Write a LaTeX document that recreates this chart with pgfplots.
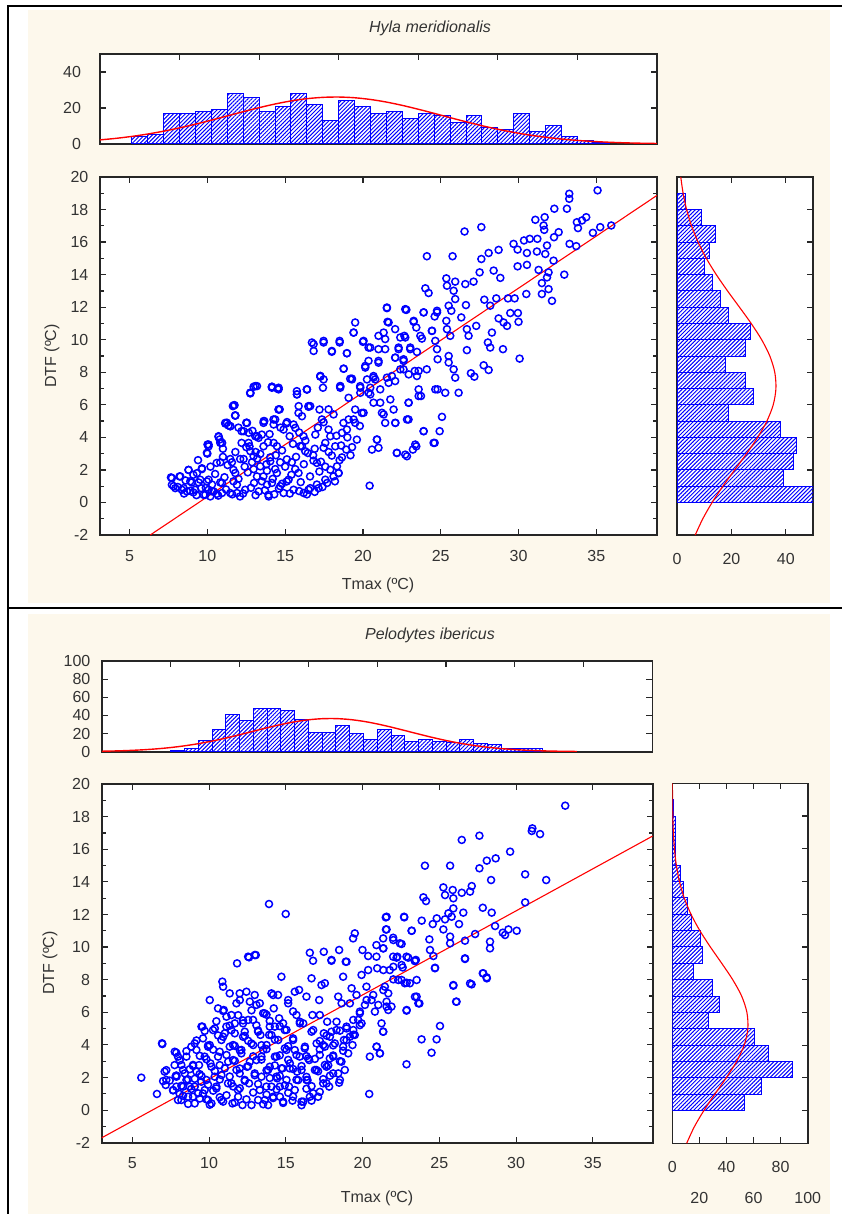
\documentclass[border=0pt]{standalone}
\usepackage{fontspec}
\setmainfont{Liberation Sans}
\usepackage{pgfplots}
\pgfplotsset{compat=1.18}
\usetikzlibrary{patterns.meta}
\definecolor{cream}{HTML}{FDF8EC}
\definecolor{txt}{HTML}{333333}

\pgfplotsset{
  stat/.style={
    scale only axis,
    axis background/.style={fill=white},
    axis line style={black!85, line width=0.8pt},
    tick style={black!85, line width=0.6pt},
    tick align=inside,
    major tick length=3pt,
    minor tick length=2pt,
    tick label style={font=\fontsize{8}{9}\selectfont, text=txt},
  },
  hatch/.style={draw=blue, line width=0.5pt,
    pattern={Lines[angle=45,distance=1.4pt,line width=0.5pt]}, pattern color=blue},
  dots/.style={only marks, mark=o, mark size=1.75pt, draw=blue,
    mark options={blue, line width=0.75pt}},
  fitline/.style={red, line width=0.55pt},
}

\begin{document}
\begin{tikzpicture}[x=0.5pt, y=-0.5pt]
\path[use as bounding box] (0,0) rectangle (842,1214);
\fill[white] (0,0) rectangle (842,1214);
\fill[cream] (28,10) rectangle (830,603);
\fill[cream] (28,614) rectangle (830,1214);
\draw[black, line width=1pt] (8,1214) -- (8,6) -- (842,6);
\draw[black, line width=1pt] (8,608) -- (842,608);

% ---------------- Hyla meridionalis ----------------
\node[font=\fontsize{8}{9}\selectfont\itshape, text=txt] at (430,28) {Hyla meridionalis};

% top histogram
\begin{axis}[stat, at={(50pt,-27pt)}, anchor=north west, width=278.5pt, height=45pt,
  xmin=5, xmax=40, ymin=0, ymax=50,
  xtick={10,15,...,35}, xticklabels={}, xtick pos=right,
  ytick={0,20,40}, yticklabels={0,20,40}, ytick pos=both,
  yticklabel style={xshift=-6pt}]
\addplot[ybar interval, hatch] coordinates {
 (7,4) (8,5) (9,17) (10,17) (11,18) (12,19) (13,28) (14,26) (15,18) (16,21)
 (17,28) (18,22) (19,13) (20,24) (21,21) (22,17) (23,18) (24,14) (25,17) (26,16)
 (27,12) (28,16) (29,9) (30,8) (31,17) (32,7) (33,10) (34,4) (35,2) (36,1) (37,0)};
\addplot[red, line width=0.7pt, smooth] coordinates {
 (5,2.28) (6,3.13) (7,4.21) (8,5.54) (9,7.12) (10,8.96) (11,11.02) (12,13.25)
 (13,15.60) (14,17.94) (15,20.19) (16,22.22) (17,23.92) (18,25.17) (19,25.91)
 (20,26.09) (21,25.69) (22,24.73) (23,23.29) (24,21.44) (25,19.31) (26,17.01)
 (27,14.65) (28,12.34) (29,10.17) (30,8.19) (31,6.45) (32,4.97) (33,3.75)
 (34,2.76) (35,1.99) (36,1.40) (37,0.97) (38,0.65) (39,0.43) (40,0.28)};
\end{axis}

% scatter
\begin{axis}[stat, at={(50pt,-88.5pt)}, anchor=north west, width=278.5pt, height=179pt,
  xmin=3.1, xmax=38.9, ymin=-2, ymax=20,
  xtick={5,10,...,35}, xticklabels={5,10,15,20,25,30,35}, xtick pos=both,
  ytick={-2,0,...,20}, yticklabels={-2,0,2,4,6,8,10,12,14,16,18,20}, ytick pos=both,
  minor y tick num=1,
  xticklabel style={yshift=-4pt}, yticklabel style={xshift=-2.3pt}]
\addplot[dots] coordinates {
 (7.66,1.54) (7.72,1.09) (7.94,0.88) (8.21,1.6) (8.36,0.78) (8.69,0.68) (8.79,2.0) (9.0,1.23)
 (9.1,0.62) (9.33,1.8) (9.44,1.23) (9.65,2.1) (9.6,0.88) (9.76,0.47) (9.97,1.29) (10.08,3.45)
 (10.0,3.0) (10.08,0.78) (10.19,0.37) (10.4,0.68) (10.6,2.43) (10.72,4.03) (10.94,3.66)
 (10.83,1.23) (10.94,0.58) (11.15,4.85) (11.36,4.73) (11.47,0.58) (11.58,2.47) (11.64,5.92)
 (11.79,5.34) (11.79,1.81) (11.9,1.09) (12.1,0.37) (12.2,4.38) (12.2,3.66) (12.33,2.67)
 (12.43,0.78) (12.54,4.89) (12.76,6.7) (12.97,7.11) (12.71,3.45) (12.97,2.84) (13.08,4.07)
 (13.19,1.6) (13.3,0.68) (13.4,2.22) (13.5,4.17) (13.61,3.45) (13.66,5.0) (13.83,1.09)
 (13.94,0.37) (14.04,2.53) (14.15,7.11) (14.36,5.1) (14.51,6.99) (14.58,5.71) (14.26,3.66)
 (14.47,1.81) (14.68,2.47) (14.9,0.58) (15.07,4.85) (15.1,1.29) (15.29,4.07) (15.43,2.47)
 (15.54,0.78) (15.65,4.58) (15.76,6.64) (15.86,1.81) (16.08,3.45) (16.19,0.58) (16.4,6.95)
 (16.46,3.04) (16.5,5.88) (16.61,0.88) (16.72,9.83) (16.83,9.31) (16.94,4.17) (17.04,2.43)
 (17.15,0.88) (17.21,5.71) (17.26,7.73) (17.47,9.93) (17.43,7.05) (17.47,4.93) (17.58,3.66)
 (17.58,1.4) (17.79,4.48) (17.9,2.01) (18.0,9.31) (18.11,5.41) (18.22,3.45) (18.33,2.22)
 (18.5,9.93) (18.44,1.81) (18.54,7.15) (18.65,4.28) (18.76,8.22) (18.97,9.17) (18.93,3.25)
 (19.08,5.1) (19.29,7.61) (19.4,10.44) (19.5,11.06) (19.5,5.71) (19.61,3.86) (19.83,7.05)
 (20.0,9.87) (20.04,5.51) (20.15,8.39) (20.26,7.56) (20.36,6.74) (20.43,1.03) (20.47,9.52)
 (20.58,3.25) (20.68,6.13) (20.79,7.56) (20.9,3.86) (21.0,8.59) (21.11,6.95) (21.22,5.51)
 (21.33,10.44) (21.43,4.89) (21.54,11.98) (21.65,11.06) (21.76,6.33) (21.86,7.77) (21.97,5.71)
 (22.08,8.9) (22.08,4.89) (22.18,3.04) (22.29,9.52) (22.61,8.18) (22.72,11.88) (22.83,2.84)
 (22.93,6.13) (22.93,5.1) (23.04,9.52) (23.26,11.16) (23.43,3.45) (23.47,7.77) (23.58,6.54)
 (23.69,10.24) (23.9,11.68) (23.9,4.38) (24.1,8.18) (24.43,10.54) (24.54,3.66) (24.65,6.95)
 (24.76,11.68)
 (7.72,1.5) (8.26,1.6) (7.83,1.0) (8.79,2.0) (9.65,2.05) (8.9,1.3) (8.47,0.88) (9.22,0.78)
 (9.54,1.4) (10.08,1.4) (9.87,0.47) (10.3,0.68) (10.6,0.53) (10.94,1.2) (10.83,2.47)
 (10.08,3.56) (9.97,3.05) (10.79,3.87) (10.94,3.66) (11.15,4.89) (11.47,4.68) (11.75,5.98)
 (11.79,5.34) (11.47,2.67) (11.68,2.0) (11.68,1.3) (11.9,0.58) (12.11,2.67) (12.33,4.38)
 (12.54,4.89) (12.65,3.66) (12.76,6.74) (13.08,7.15) (12.76,3.15) (12.87,2.47) (12.97,2.05)
 (13.29,3.97) (13.4,2.98) (13.5,1.3) (13.61,4.89) (13.83,1.95) (13.93,0.47) (14.04,2.77)
 (14.15,7.11) (14.15,1.2) (14.25,5.1) (14.36,2.05) (14.47,3.46) (14.58,7.05) (14.58,5.72)
 (14.68,1.0) (14.9,4.48) (15.11,2.65) (15.22,1.4) (15.54,4.79) (15.65,2.05) (15.75,6.84)
 (15.86,5.5) (15.97,3.46) (16.18,4.07) (16.29,3.15) (16.4,6.94) (16.5,0.78) (16.61,5.92)
 (16.82,2.57) (17.04,1.1) (17.26,7.77) (17.36,5.1) (17.47,3.36) (17.58,2.2) (17.79,5.72)
 (17.9,4.07) (18.0,2.88) (18.11,1.6) (18.43,1.8) (18.54,7.15) (18.65,2.77) (18.75,4.89)
 (18.97,4.48) (19.08,6.43) (19.29,7.56) (19.4,5.1) (19.5,4.89) (19.83,6.74) (19.93,5.5)
 (20.47,6.64) (20.68,7.77) (20.9,3.87) (21.0,3.36) (21.11,6.13) (21.33,5.41) (21.65,7.35)
 (22.08,4.89) (22.18,3.05)
 (8.1,0.95) (8.5,0.55) (8.9,0.72) (9.3,0.45) (9.9,0.9) (10.7,0.42) (11.2,0.8) (11.6,0.5)
 (12.3,0.55) (12.8,0.9) (13.1,0.45) (13.7,0.75) (14.3,0.5) (14.6,0.85) (15.3,0.55) (15.9,0.7)
 (16.4,0.5) (16.9,0.65) (17.4,0.95) (17.7,1.2)
 (8.6,1.35) (9.1,1.7) (10.3,1.1) (10.5,1.75) (11.1,1.55) (12.0,1.45) (12.6,1.85) (13.0,1.2)
 (13.6,1.6) (14.2,1.45) (14.8,1.15) (15.4,1.7) (16.0,1.25) (16.6,1.6) (17.2,1.9) (18.2,1.3)
 (9.4,2.6) (10.2,2.2) (11.0,2.8) (11.3,2.3) (12.4,2.2) (13.2,2.7) (13.8,2.35) (14.4,2.9)
 (15.0,2.2) (15.7,2.8) (16.2,2.35) (16.8,2.9) (17.3,2.5) (18.5,2.6) (19.2,2.9)
 (11.0,3.3) (11.8,3.1) (12.5,3.4) (13.1,3.1) (13.9,3.7) (14.8,3.2) (15.5,3.6) (16.3,3.8)
 (16.9,3.3) (17.8,3.1) (18.6,3.5) (19.3,3.4)
 (12.0,4.6) (12.9,4.4) (14.0,4.2) (14.7,4.6) (15.9,4.3) (17.1,4.6) (18.3,4.1) (19.0,4.0) (19.8,4.7)
 (35.08,19.18) (33.26,18.97) (33.26,18.66) (32.3,18.05) (33.11,18.05) (31.68,17.53)
 (31.08,17.37) (31.61,17.02) (33.75,17.22) (34.35,17.53) (34.08,17.33) (31.65,16.75)
 (32.58,16.61) (33.82,16.86) (26.53,16.65) (27.61,16.92) (34.78,16.57) (35.25,16.92)
 (35.96,17.02) (30.35,16.1) (30.72,16.2) (31.21,16.2) (32.28,16.3) (29.68,15.89) (31.83,15.79)
 (33.28,15.89) (33.71,15.75) (24.11,15.13) (25.76,15.13) (28.08,15.33) (28.72,15.52)
 (29.94,15.54) (30.54,15.33) (31.18,15.42) (31.72,15.27) (27.61,14.96) (32.25,14.86)
 (29.94,14.51) (30.54,14.6) (27.5,14.14) (28.4,14.25) (28.83,13.8) (31.29,14.29) (31.93,14.14)
 (32.94,14.0) (25.36,13.77) (25.93,13.57) (26.58,13.42) (27.11,13.57) (25.4,13.32)
 (25.83,13.01) (24.01,13.16) (24.22,12.87) (31.5,13.48) (31.83,13.83) (31.93,13.11)
 (31.5,12.81) (30.5,12.81) (32.15,12.39) (25.93,12.5) (26.62,12.13) (27.8,12.46) (28.57,12.54)
 (28.18,12.09) (29.32,12.54) (29.75,12.54) (22.79,11.84) (23.9,11.68) (24.76,11.78)
 (25.68,11.78) (25.51,12.09) (23.26,11.1) (23.43,10.75) (24.61,11.43) (25.36,11.16)
 (26.32,11.37) (28.72,11.31) (29.04,11.06) (29.47,11.64) (29.96,11.64) (30.0,11.1)
 (29.26,10.85) (22.4,10.14) (22.66,10.24) (23.79,10.07) (24.44,10.55) (25.4,10.65)
 (25.61,10.24) (26.68,10.65) (27.28,10.85) (26.79,10.24) (28.29,10.44) (23.04,9.42)
 (23.47,9.25) (24.65,9.93) (24.76,9.42) (25.51,9.0) (25.51,8.6) (24.8,8.8) (26.68,9.36)
 (28.03,9.83) (28.18,9.52) (29.0,9.42) (30.07,8.84) (22.61,8.8) (22.4,8.18) (22.94,7.87)
 (23.58,8.08) (25.83,8.18) (25.93,7.67) (26.94,7.94) (27.16,7.73) (27.76,8.43) (28.08,8.14)
 (23.58,6.95) (23.73,6.54) (24.8,6.95) (25.29,6.74) (26.15,6.74) (22.94,6.13) (25.08,5.26)
 (22.83,5.1) (23.9,4.38) (24.93,4.38) (24.61,3.66) (23.36,3.56) (23.21,3.25) (22.72,2.94)
 (21.54,11.94) (22.76,11.84) (19.4,10.44) (21.58,11.1) (22.07,10.65) (21.0,10.24)
 (21.43,10.04) (22.72,10.14) (16.83,9.73) (17.47,9.83) (18.5,9.83) (18.0,9.26) (18.97,9.17)
 (20.04,9.93) (20.36,9.52) (21.0,9.42) (21.43,9.42) (22.29,9.42) (20.36,8.7) (21.0,8.7)
 (22.07,8.9) (22.61,8.7) (20.15,8.29) (18.76,8.22) (23.33,8.08) (17.26,7.77) (17.47,7.56)
 (19.18,7.6) (20.68,7.67) (21.54,7.67) (19.82,7.15) (18.54,7.05) (20.47,7.05) (22.07,7.46)
 (13.19,7.15) (12.76,6.74) (10.01,3.56) (10.72,4.07) (10.83,3.66) (11.69,5.97) (11.8,5.35)
 (11.26,4.9) (11.48,4.69) (12.5,4.9) (12.66,4.28) (13.19,4.07) (13.62,5.0) (14.15,7.05)
 (14.58,6.95) (14.26,4.79) (14.65,5.72) (15.12,4.94) (15.76,6.64) (15.87,5.92) (16.4,6.95)
 (16.5,5.92) (16.08,5.3)};
\addplot[fitline] coordinates {(6.33,-2) (38.9,18.87)};
\end{axis}

% right histogram
\begin{axis}[stat, at={(338.5pt,-88.5pt)}, anchor=north west, width=68pt, height=179pt,
  xmin=0, xmax=50, ymin=-2, ymax=20,
  xtick={0,20,40}, xticklabels={0,20,40}, xtick pos=both,
  ytick={0,2,...,18}, yticklabels={}, ytick pos=right,
  xticklabel style={yshift=-5.4pt}]
\addplot[xbar interval, hatch] coordinates {
 (50,0) (39,1) (43,2) (44,3) (38,4) (19,5) (28,6) (25,7) (18,8) (25,9)
 (27,10) (19,11) (16,12) (13,13) (10,14) (12,15) (14,16) (9,17) (3,18) (0,19)};
\addplot[fitline, smooth] coordinates {
 (6.70,-2) (9.49,-1) (12.91,0) (16.88,1) (21.20,2) (25.58,3) (29.66,4) (33.04,5)
 (35.37,6) (36.37,7) (35.94,8) (34.12,9) (31.12,10) (27.27,11) (22.96,12) (18.57,13)
 (14.44,14) (10.78,15) (7.74,16) (5.33,17) (3.53,18) (2.25,19) (1.38,20)};
\end{axis}

\node[rotate=90, font=\fontsize{8}{9}\selectfont, text=txt] at (52,356) {DTF (ºC)};
\node[font=\fontsize{8}{9}\selectfont, text=txt] at (378,585) {Tmax (ºC)};

% ---------------- Pelodytes ibericus ----------------
\node[font=\fontsize{8}{9}\selectfont\itshape, text=txt] at (430,635) {Pelodytes ibericus};

% top histogram
\begin{axis}[stat, at={(51pt,-330.5pt)}, anchor=north west, width=275.25pt, height=45.35pt,
  xmin=0, xmax=40, ymin=0, ymax=100,
  xtick={5,10,...,35}, xticklabels={}, xtick pos=right,
  ytick={0,20,...,100}, yticklabels={0,20,40,60,80,100}, ytick pos=both,
  yticklabel style={xshift=-2.3pt}]
\addplot[ybar interval, hatch] coordinates {
 (5,1) (6,3) (7,12) (8,25) (9,41) (10,34) (11,48) (12,48) (13,45) (14,35)
 (15,21) (16,21) (17,29) (18,20) (19,13) (20,24) (21,18) (22,11) (23,13) (24,11)
 (25,10) (26,13) (27,9) (28,8) (29,4) (30,3) (31,3) (32,0)};
\addplot[red, line width=0.7pt, smooth] coordinates {
 (0,0.53) (1,0.86) (2,1.38) (3,2.13) (4,3.18) (5,4.61) (6,6.50) (7,8.86) (8,11.73)
 (9,15.05) (10,18.72) (11,22.59) (12,26.43) (13,29.98) (14,32.98) (15,35.19) (16,36.40)
 (17,36.51) (18,35.51) (19,33.50) (20,30.63) (21,27.17) (22,23.37) (23,19.49) (24,15.76)
 (25,12.36) (26,9.40) (27,6.93) (28,4.95) (29,3.43) (30,2.31) (31,1.51) (32,0.95)
 (33,0.58) (34,0.35) (34.5,0.26)};
\end{axis}

% scatter
\begin{axis}[stat, at={(50.85pt,-392pt)}, anchor=north west, width=275.5pt, height=179.35pt,
  xmin=3, xmax=38.9, ymin=-2, ymax=20,
  xtick={5,10,...,35}, xticklabels={5,10,15,20,25,30,35}, xtick pos=both,
  ytick={-2,0,...,20}, yticklabels={-2,0,2,4,6,8,10,12,14,16,18,20}, ytick pos=both,
  minor y tick num=1,
  xticklabel style={yshift=-4pt}, yticklabel style={xshift=-2.3pt}]
\addplot[dots] coordinates {
 (5.58,1.99) (6.6,0.99) (6.95,4.05) (7.1,2.36) (7.0,1.78) (7.17,1.54) (7.86,3.52) (7.75,2.76)
 (7.82,2.09) (7.86,1.44) (8.08,0.99) (8.19,0.62) (8.3,2.46) (8.52,3.28) (8.62,1.89) (8.73,1.44)
 (8.95,0.82) (9.06,0.41) (9.06,4.09) (9.17,3.69) (9.34,2.76) (9.38,2.21) (9.49,1.74) (9.56,5.12)
 (9.6,4.4) (9.71,1.23) (9.82,0.66) (9.93,3.89) (10.04,6.75) (10.08,2.87) (10.15,0.41)
 (10.25,4.91) (10.36,2.05) (10.47,1.44) (10.58,3.28) (10.8,0.62) (10.86,7.88) (10.91,4.5)
 (10.91,7.57) (10.95,6.14) (11.02,2.56) (11.12,5.12) (11.23,1.64) (11.34,3.89) (11.45,5.83)
 (11.52,0.41) (11.56,3.07) (11.67,4.71) (11.78,6.55) (11.82,9.0) (11.88,1.23) (11.99,7.16)
 (11.99,2.25) (12.1,3.69) (12.17,0.31) (12.21,5.32) (12.32,4.81) (12.43,7.26) (12.47,2.66)
 (12.54,9.41) (12.6,1.64) (12.65,6.65) (12.75,4.09) (12.86,5.53) (12.97,9.51) (12.97,7.06)
 (13.08,3.07) (13.19,0.62) (13.3,6.55) (13.34,4.61) (13.41,2.05) (13.52,3.69) (13.62,5.93)
 (13.73,1.44) (13.84,0.31) (13.91,4.61) (13.95,2.66) (14.06,7.16) (14.17,0.82) (14.21,6.24)
 (14.28,5.12) (14.39,3.28) (14.43,1.95) (14.49,7.06) (14.56,5.63) (14.6,1.44) (14.71,8.18)
 (14.78,2.56) (14.82,0.52) (14.93,4.91) (15.04,3.69) (15.15,6.55) (15.21,1.44) (15.25,2.56)
 (15.43,0.58) (15.47,4.4) (15.58,7.26) (15.69,5.83) (15.73,2.36) (15.8,1.84) (15.86,7.37)
 (15.9,3.28) (16.02,0.52) (16.13,5.32) (16.23,3.79) (16.34,6.96) (16.41,1.84) (16.52,3.07)
 (16.56,0.82) (16.67,8.08) (16.73,5.83) (16.78,4.91) (16.89,2.46) (17.0,4.09) (17.1,0.82)
 (17.17,6.75) (17.21,5.83) (17.32,7.67) (17.43,1.64) (17.47,4.71) (17.54,7.78) (17.54,3.89)
 (17.65,2.66) (17.69,5.42) (17.82,1.44) (17.86,3.17) (17.97,9.21) (17.97,4.81) (18.08,2.25)
 (18.19,4.09) (18.3,5.42) (18.41,6.96) (18.47,1.68) (18.62,2.97) (18.73,8.18) (18.78,4.3)
 (18.84,2.46) (18.9,9.1) (18.95,5.01) (19.06,3.48) (19.17,6.55) (19.28,7.47) (19.34,3.99)
 (19.39,4.91) (19.49,4.61) (19.6,7.06) (19.71,5.53) (19.82,6.04) (19.93,8.29) (20.15,6.45)
 (20.25,7.57) (20.36,8.59) (20.43,0.99) (20.47,3.28) (20.58,6.75) (20.69,7.06) (20.8,6.04)
 (20.91,3.89) (20.95,8.7) (21.02,6.45) (21.12,3.48) (21.23,5.32) (21.34,4.81) (21.45,7.57)
 (21.56,6.65) (21.67,6.14) (21.77,8.59) (21.88,6.35) (21.99,9.41) (22.32,7.98) (22.54,8.9)
 (22.75,7.78) (22.86,9.41) (22.86,6.1) (22.86,2.81) (23.08,7.78) (23.47,9.21) (23.52,6.96)
 (23.63,6.55) (23.84,4.34) (24.49,3.52) (24.71,8.7) (24.82,4.34) (25.04,5.16) (25.91,7.63)
 (26.12,6.65) (26.67,9.31) (27.1,7.71) (27.86,8.39) (28.08,8.14)
 (6.93,4.1) (7.21,1.85) (7.76,3.58) (7.97,3.28) (7.87,2.05) (7.65,1.23) (8.19,2.77)
 (8.41,2.25) (8.3,1.44) (8.52,1.85) (8.63,0.82) (8.84,3.89) (8.95,2.77) (9.17,2.36) (9.06,1.44)
 (9.28,1.03) (9.5,5.12) (9.71,3.28) (9.82,1.85) (9.93,0.62) (10.04,3.99) (10.15,2.66)
 (10.37,5.01) (10.47,1.33) (10.58,6.24) (10.69,3.58) (10.8,2.15) (10.91,0.52) (11.02,4.71)
 (11.13,5.73) (11.24,2.97) (11.34,7.16) (11.45,1.64) (11.56,3.99) (11.67,5.32) (11.78,2.46)
 (11.89,0.82) (12.0,6.75) (12.1,3.48) (12.21,4.5) (12.32,1.85) (12.54,5.53) (12.65,2.97)
 (12.76,0.31) (12.87,3.99) (12.97,2.25) (13.08,6.45) (13.19,4.81) (13.3,1.23) (13.41,3.28)
 (13.52,5.94) (13.63,0.62) (13.74,3.99) (13.84,2.46) (13.95,5.12) (14.06,1.44) (14.17,7.06)
 (14.28,3.28) (14.39,2.05) (14.5,4.3) (14.61,0.82) (14.71,2.56) (14.82,5.32) (14.93,3.79)
 (15.04,1.85) (15.15,6.75) (15.26,2.87) (15.47,4.3) (15.58,1.23) (15.69,3.38) (15.91,5.32)
 (16.02,2.46) (16.13,0.52) (16.24,3.89) (16.34,1.85) (16.45,3.17) (16.67,4.81) (16.78,1.03)
 (16.99,2.46) (17.21,3.38) (17.43,3.99) (17.54,2.77) (17.65,1.64) (17.87,4.5) (18.08,3.28)
 (18.3,4.91) (18.41,2.25) (18.52,1.85) (18.63,6.55) (18.73,3.89) (18.95,5.12) (19.17,4.5)
 (19.39,5.53) (19.82,5.94) (19.93,5.32) (20.26,6.75) (20.91,3.89) (21.13,3.48) (21.34,4.81)
 (21.56,6.35)
 (7.97,0.62) (8.63,0.38) (9.39,0.71) (10.04,0.33) (10.69,0.79) (11.67,0.47) (12.43,0.66)
 (13.52,0.36) (14.17,0.74) (14.82,0.44) (15.47,0.83) (16.02,0.3) (16.67,0.58)
 (7.65,1.21) (8.3,0.88) (8.84,1.3) (9.6,1.02) (10.26,1.19) (11.13,0.91) (12.0,1.34)
 (12.87,1.08) (13.74,0.95) (14.39,1.27) (15.15,1.06) (16.34,1.31) (17.21,1.12)
 (7.43,1.81) (8.19,1.49) (9.06,1.92) (9.93,1.56) (10.69,1.88) (11.56,1.45) (12.32,1.79)
 (13.19,1.6) (13.95,1.97) (14.93,1.52) (15.69,1.86) (16.67,1.47) (17.43,1.9)
 (7.21,2.45) (7.87,2.12) (8.74,2.51) (9.5,2.09) (10.37,2.4) (11.34,2.06) (12.0,2.55)
 (12.97,2.14) (13.74,2.44) (14.6,2.1) (15.47,2.52) (16.34,2.04) (17.1,2.38) (17.87,2.11)
 (8.08,3.05) (8.95,2.71) (9.82,3.12) (10.69,2.76) (11.67,3.02) (12.54,2.69) (13.41,3.1)
 (14.28,2.74) (15.15,3.08) (16.02,2.7) (16.89,3.14) (17.76,2.75) (18.52,3.0)
 (8.52,3.62) (9.39,3.33) (10.26,3.71) (11.13,3.38) (12.0,3.66) (12.87,3.3) (13.74,3.74)
 (14.6,3.36) (15.58,3.68) (16.34,3.31) (17.21,3.72) (18.08,3.35) (18.73,3.64)
 (9.17,4.27) (9.93,3.96) (10.8,4.3) (11.67,3.94) (12.54,4.25) (13.41,3.98) (14.28,4.33)
 (15.15,3.92) (17.21,4.24) (18.08,3.97) (18.95,4.29)
 (9.71,4.86) (10.58,4.58) (11.45,4.9) (12.32,4.55) (13.19,4.88) (14.06,4.6) (15.04,4.92)
 (17.65,4.57) (18.52,4.87) (19.39,4.62)
 (10.47,5.45) (11.34,5.18) (12.21,5.5) (13.08,5.2) (13.95,5.47) (14.6,5.15) (15.91,5.42)
 (19.82,5.21) (10.91,6.08) (11.89,5.82) (12.76,6.12) (13.74,5.85) (15.47,6.05)
 (33.2,18.67) (31.06,17.28) (31.02,17.12) (31.56,16.93) (27.61,16.83) (26.46,16.57)
 (29.61,15.85) (28.67,15.44) (28.09,15.3) (24.06,14.99) (25.7,14.99) (27.61,14.83)
 (30.59,14.46) (31.96,14.11) (28.37,14.11) (25.26,13.66) (25.87,13.5) (27.11,13.74)
 (27.0,13.4) (26.46,13.33) (25.37,13.19) (25.91,12.99) (23.96,13.05) (24.13,12.82)
 (30.59,12.74) (25.91,12.37) (27.83,12.41) (28.41,12.11) (26.56,12.11) (25.59,12.07)
 (25.8,11.86) (21.56,11.86) (22.7,11.86) (24.83,11.76) (25.37,11.7) (23.85,11.62)
 (24.57,11.41) (26.28,11.41) (25.26,11.08) (28.63,11.29) (29.5,11.08) (30.04,11.0)
 (29.13,10.88) (29.28,10.74) (27.33,10.8) (21.52,11.08) (23.2,11.0) (25.7,10.64)
 (26.67,10.39) (28.3,10.33) (28.3,9.92) (22.0,10.43) (22.54,10.19) (24.35,10.47)
 (24.39,9.82) (25.7,10.23) (21.35,9.92) (22.26,9.41) (23.41,9.14) (24.61,9.45) (26.67,9.27)
 (21.35,8.59) (22.0,8.79) (22.61,8.75) (24.72,8.73) (22.54,7.98) (22.0,8.02) (23.52,7.98)
 (22.87,7.81) (25.91,7.67) (27.0,7.77) (27.83,8.39) (28.09,8.08) (21.35,7.36) (21.67,7.16)
 (23.41,6.95) (23.7,6.54) (26.09,6.65) (22.87,6.14)
 (13.9,12.64) (14.99,12.03) (12.6,9.37) (13.04,9.51) (16.56,9.65) (16.77,9.16) (17.47,9.71)
 (17.97,9.16) (18.47,9.82) (18.95,9.1) (19.38,10.53) (19.49,10.84) (19.99,9.82) (20.36,9.45)
 (20.9,10.12) (20.9,9.41) (21.34,10.53) (21.51,11.82) (21.56,11.08) (21.99,10.57)
 (22.43,10.23) (22.71,11.82) (23.19,11.0) (21.34,9.92) (22.21,9.35) (22.97,9.35) (23.4,9.16)};
\addplot[fitline] coordinates {(3,-1.7) (38.9,16.81)};
\end{axis}

% right histogram
\begin{axis}[stat, at={(336.15pt,-391.65pt)}, anchor=north west, width=67.7pt, height=180pt,
  xmin=0, xmax=100, ymin=-2, ymax=20,
  xtick={0,40,80}, xticklabels={0,40,80}, xtick pos=both,
  extra x ticks={20,60,100}, extra x tick labels={20,60,100},
  extra x tick style={xticklabel style={yshift=-15.4pt}},
  ytick={0,2,...,18}, yticklabels={}, ytick pos=right,
  xticklabel style={yshift=-5.4pt}]
\addplot[xbar interval, hatch] coordinates {
 (53,0) (66,1) (89,2) (71,3) (61,4) (27,5) (35,6) (30,7) (16,8) (22,9)
 (21,10) (14,11) (11,12) (8,13) (6,14) (2,15) (2,16) (2,17) (1,18) (0,19)};
\addplot[fitline, smooth] coordinates {
 (10.6,-2) (16.2,-1) (23.3,0) (31.4,1) (39.8,2) (47.5,3) (53.1,4) (55.8,5) (55.1,6)
 (51.2,7) (44.6,8) (36.5,9) (28.1,10) (20.3,11) (13.8,12) (8.78,13) (5.26,14) (2.96,15)
 (1.56,16) (0.78,17) (0.36,18) (0.16,19) (0.07,20)};
\end{axis}

\node[rotate=90, font=\fontsize{8}{9}\selectfont, text=txt] at (50,963) {DTF (ºC)};
\node[font=\fontsize{8}{9}\selectfont, text=txt] at (377,1198) {Tmax (ºC)};
\end{tikzpicture}
\end{document}
